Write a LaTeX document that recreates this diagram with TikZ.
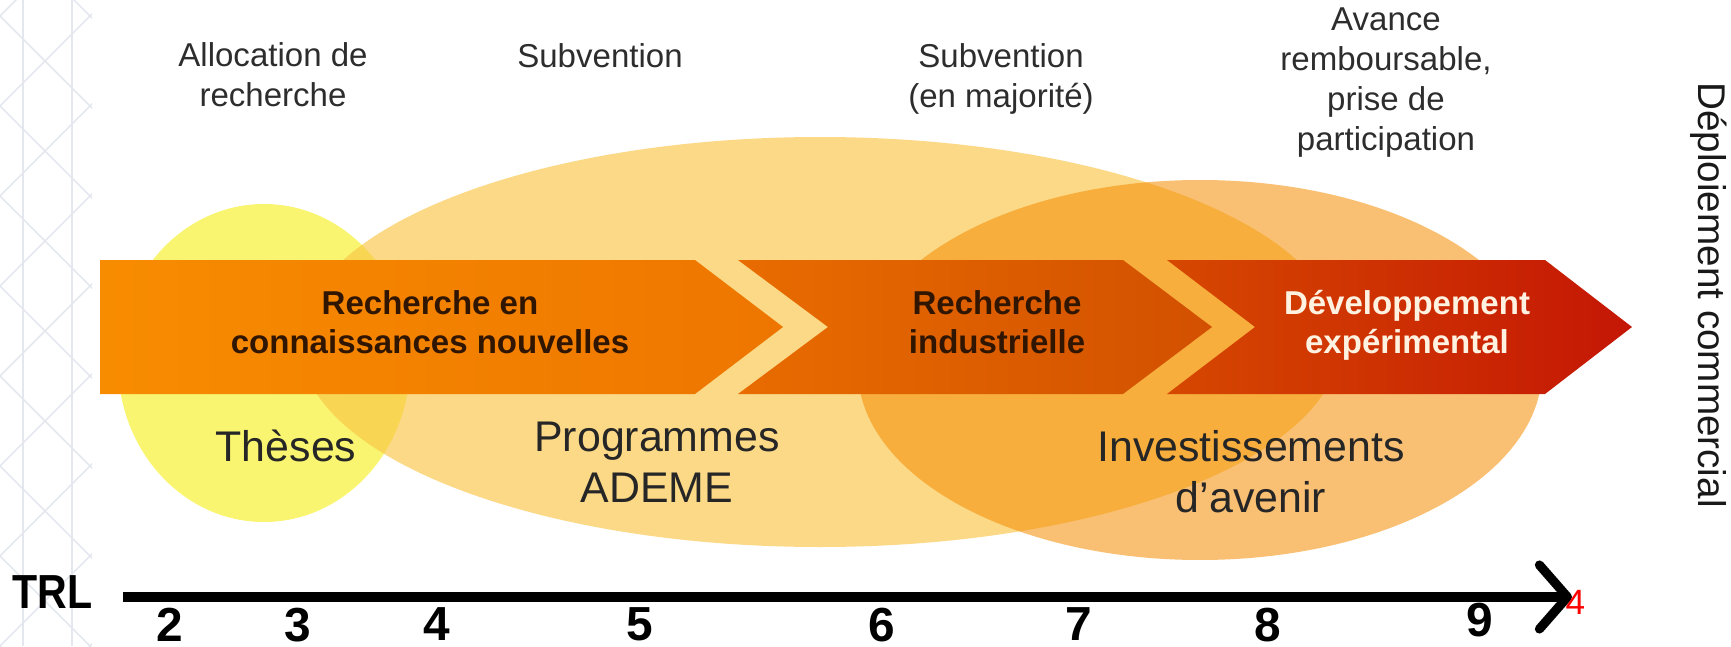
\documentclass[tikz,border=0pt]{standalone}
\usepackage{fontspec}
\setmainfont{Liberation Sans}
\usetikzlibrary{shapes.geometric,arrows.meta}
\definecolor{thesesyellow}{RGB}{249,245,112}
\definecolor{ademeorange}{RGB}{249,197,70}
\definecolor{investorange}{RGB}{244,140,0}
\definecolor{segonel}{RGB}{248,140,0}
\definecolor{segoner}{RGB}{238,118,0}
\definecolor{segtwol}{RGB}{232,108,0}
\definecolor{segtwor}{RGB}{210,80,0}
\definecolor{segthreel}{RGB}{214,72,0}
\definecolor{segthreer}{RGB}{196,22,5}
\definecolor{labelgray}{RGB}{45,45,45}
\definecolor{bandtext}{RGB}{48,22,0}
\definecolor{devtext}{RGB}{255,242,225}
\definecolor{latticegray}{RGB}{228,232,238}
\begin{document}
\begin{tikzpicture}
    [
    blob/.style={ellipse,inner sep=0pt},
    toplabel/.style={anchor=north,align=center,inner sep=0pt,text=labelgray,font=\fontsize{9.4}{11.4}\selectfont},
    bandlabel/.style={anchor=north,align=center,inner sep=0pt,text=bandtext,font=\bfseries\fontsize{9.4}{11.1}\selectfont},
    biglabel/.style={anchor=north,align=center,inner sep=0pt,text=black!85,font=\fontsize{12.2}{14.5}\selectfont},
    trlnum/.style={anchor=north,inner sep=0pt,font=\bfseries\fontsize{13.6}{13.6}\selectfont},
    trlaxis/.style={line width=2.6pt,-{Straight Barb[length=2.8mm,width=6.4mm,round]}}
    ]
    \useasboundingbox (0,0) rectangle (17.31,6.46);
    % faint lattice on the left edge
    \begin{scope}
      \clip (0,0) rectangle (0.92,6.46);
      \foreach \k in {-1,...,8}
        {
        \draw [latticegray,line width=0.5pt] (0,\k*0.9) -- ++(1,1);
        \draw [latticegray,line width=0.5pt] (0,\k*0.9) -- ++(1,-1);
        }
      \draw [latticegray,line width=0.5pt] (0.23,0) -- (0.23,6.46);
      \draw [latticegray,line width=0.5pt] (0.72,0) -- (0.72,6.46);
    \end{scope}
    % funding areas
    \node (theses) at (2.64,2.83) [blob,fill=thesesyellow,minimum width=2.92cm,minimum height=3.18cm] {};
    \node (ademe) at (8.20,3.04) [blob,fill=ademeorange,fill opacity=0.65,minimum width=10.4cm,minimum height=4.1cm] {};
    \node (invest) at (12.00,2.76) [blob,fill=investorange,fill opacity=0.55,minimum width=6.84cm,minimum height=3.8cm] {};
    % research stages
    \shade [left color=segonel,right color=segoner] (1.00,3.86) -- (6.95,3.86) -- (7.83,3.19) -- (6.95,2.52) -- (1.00,2.52) -- cycle;
    \shade [left color=segtwol,right color=segtwor] (7.38,3.86) -- (11.23,3.86) -- (12.12,3.19) -- (11.23,2.52) -- (7.38,2.52) -- (8.28,3.19) -- cycle;
    \shade [left color=segthreel,right color=segthreer] (11.67,3.86) -- (15.45,3.86) -- (16.32,3.19) -- (15.45,2.52) -- (11.67,2.52) -- (12.55,3.19) -- cycle;
    \node (rechcon) at (4.30,3.56) [bandlabel] {Recherche en\\connaissances nouvelles};
    \node (rechind) at (9.97,3.56) [bandlabel] {Recherche\\industrielle};
    \node (devexp) at (14.07,3.56) [bandlabel,text=devtext] {Développement\\expérimental};
    \node (theseslabel) at (2.86,2.17) [biglabel] {Thèses};
    \node (ademelabel) at (6.57,2.25) [biglabel] {Programmes\\ADEME};
    \node (investlabel) at (12.51,2.16) [biglabel] {Investissements\\d’avenir};
    % kind of funding
    \node (alloc) at (2.73,6.04) [toplabel] {Allocation de\\recherche};
    \node (subv) at (6.00,6.03) [toplabel] {Subvention};
    \node (subvmaj) at (10.01,6.03) [toplabel] {Subvention\\(en majorité)};
    \node (avance) at (13.86,6.39) [toplabel] {Avance\\remboursable,\\prise de\\participation};
    \node (deploi) at (16.98,3.51) [rotate=-90,anchor=base,inner sep=0pt,text=black!90,font=\fontsize{11}{11}\selectfont] {Déploiement commercial};
    % TRL scale
    \node (trl) at (0.12,0.71) [anchor=north west,inner sep=0pt,font=\bfseries\fontsize{13.6}{13.6}\selectfont] {\scalebox{0.86}[1]{TRL}};
    \coordinate (axisstart) at (1.23,0.49);
    \coordinate (axisend) at (15.72,0.49);
    \draw [trlaxis] (axisstart) -- (axisend);
    \foreach \n/\x in {2/1.70,3/2.98,4/4.37,5/6.40,6/8.82,7/10.79,8/12.68}
      \node (trl\n) at (\x,0.39) [trlnum] {\n};
    \node (trl9) at (14.80,0.44) [trlnum] {9};
    \node (redfour) at (15.65,0.56) [anchor=north west,inner sep=0pt,text=red,font=\fontsize{10}{10}\selectfont] {4};
  \end{tikzpicture}
\end{document}
